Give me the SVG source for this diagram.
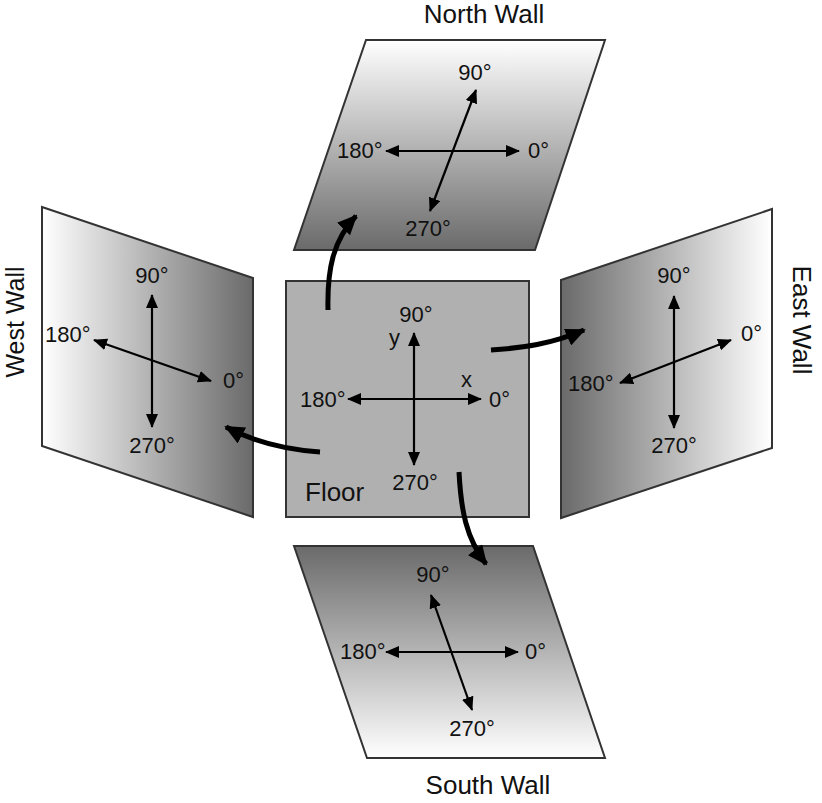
<svg xmlns="http://www.w3.org/2000/svg" width="822" height="803" viewBox="0 0 822 803">
<style>
  text { font-family: "Liberation Sans", Arial, sans-serif; fill: #111; }
  .deg { font-size: 22px; }
  .title { font-size: 26px; }
  .wall { stroke: #333; stroke-width: 2; }
  .ax { stroke: #000; stroke-width: 2.2; fill: none; marker-start: url(#ah); marker-end: url(#ah); }
  .cv { stroke: #000; stroke-width: 5; fill: none; marker-end: url(#big); }
</style>
<defs>
  <linearGradient id="gN" x1="0" y1="0" x2="0" y2="1">
    <stop offset="0" stop-color="#ffffff"/>
    <stop offset="1" stop-color="#6a6a6a"/>
  </linearGradient>
  <linearGradient id="gS" x1="0" y1="0" x2="0" y2="1">
    <stop offset="0" stop-color="#6a6a6a"/>
    <stop offset="1" stop-color="#ffffff"/>
  </linearGradient>
  <linearGradient id="gW" x1="0" y1="0" x2="1" y2="0">
    <stop offset="0" stop-color="#ffffff"/>
    <stop offset="1" stop-color="#6a6a6a"/>
  </linearGradient>
  <linearGradient id="gE" x1="0" y1="0" x2="1" y2="0">
    <stop offset="0" stop-color="#6a6a6a"/>
    <stop offset="1" stop-color="#ffffff"/>
  </linearGradient>
  <marker id="ah" viewBox="0 0 14 12" refX="13" refY="6" markerWidth="14" markerHeight="12" markerUnits="userSpaceOnUse" orient="auto-start-reverse">
    <path d="M0,0 L14,6 L0,12 Z" fill="#000"/>
  </marker>
  <marker id="big" viewBox="0 0 20 18" refX="18" refY="9" markerWidth="20" markerHeight="18" markerUnits="userSpaceOnUse" orient="auto">
    <path d="M0,0 L20,9 L0,18 Z" fill="#000"/>
  </marker>
</defs>

<g id="north-wall">
  <polygon class="wall" points="366,40 605,40 535,250 294,250" fill="url(#gN)"/>
  <line class="ax" x1="386" y1="151" x2="519" y2="151"/>
  <line class="ax" x1="476" y1="90" x2="430" y2="211"/>
  <text class="deg" x="475" y="80" text-anchor="middle">90°</text>
  <text class="deg" x="337" y="158">180°</text>
  <text class="deg" x="528" y="158">0°</text>
  <text class="deg" x="428" y="236" text-anchor="middle">270°</text>
  <text class="title" x="484" y="23" text-anchor="middle">North Wall</text>
</g>

<g id="west-wall">
  <polygon class="wall" points="42,207 253,278 253,517 42,446" fill="url(#gW)"/>
  <line class="ax" x1="152" y1="295" x2="152" y2="427"/>
  <line class="ax" x1="94" y1="340" x2="211" y2="381"/>
  <text class="deg" x="152" y="283" text-anchor="middle">90°</text>
  <text class="deg" x="45" y="342">180°</text>
  <text class="deg" x="223" y="388">0°</text>
  <text class="deg" x="152" y="453" text-anchor="middle">270°</text>
  <text class="title" transform="translate(24,322) rotate(-90)" text-anchor="middle" style="font-size:25px">West Wall</text>
</g>

<g id="east-wall">
  <polygon class="wall" points="561,280 772,209 772,448 561,518" fill="url(#gE)"/>
  <line class="ax" x1="674" y1="296" x2="674" y2="428"/>
  <line class="ax" x1="731" y1="340" x2="620" y2="383"/>
  <text class="deg" x="674" y="283" text-anchor="middle">90°</text>
  <text class="deg" x="741" y="341">0°</text>
  <text class="deg" x="568" y="391">180°</text>
  <text class="deg" x="674" y="453" text-anchor="middle">270°</text>
  <text class="title" transform="translate(793,320) rotate(90)" text-anchor="middle">East Wall</text>
</g>

<g id="south-wall">
  <polygon class="wall" points="294,546 533,546 605,758 367,758" fill="url(#gS)"/>
  <line class="ax" x1="386" y1="652" x2="518" y2="652"/>
  <line class="ax" x1="431" y1="595" x2="472" y2="710"/>
  <text class="deg" x="433" y="582" text-anchor="middle">90°</text>
  <text class="deg" x="340" y="659">180°</text>
  <text class="deg" x="525" y="659">0°</text>
  <text class="deg" x="472" y="736" text-anchor="middle">270°</text>
  <text class="title" x="488" y="794" text-anchor="middle">South Wall</text>
</g>

<g id="floor">
  <rect class="wall" x="286" y="281" width="243" height="236" fill="#b0b0b0"/>
  <line class="ax" x1="414" y1="333" x2="414" y2="465"/>
  <line class="ax" x1="348" y1="399" x2="481" y2="399"/>
  <text class="deg" x="416" y="322" text-anchor="middle">90°</text>
  <text class="deg" x="389" y="345">y</text>
  <text class="deg" x="461" y="387">x</text>
  <text class="deg" x="300" y="407">180°</text>
  <text class="deg" x="489" y="407">0°</text>
  <text class="deg" x="415" y="490" text-anchor="middle">270°</text>
  <text class="title" x="305" y="501">Floor</text>
</g>

<g id="connectors">
  <path class="cv" d="M328,310 C327,270 333,240 356,216"/>
  <path class="cv" d="M491,350 C522,348 552,344 584,330"/>
  <path class="cv" d="M320,452 C290,450 258,444 226,427"/>
  <path class="cv" d="M459,472 C461,510 466,538 486,564"/>
</g>
</svg>
